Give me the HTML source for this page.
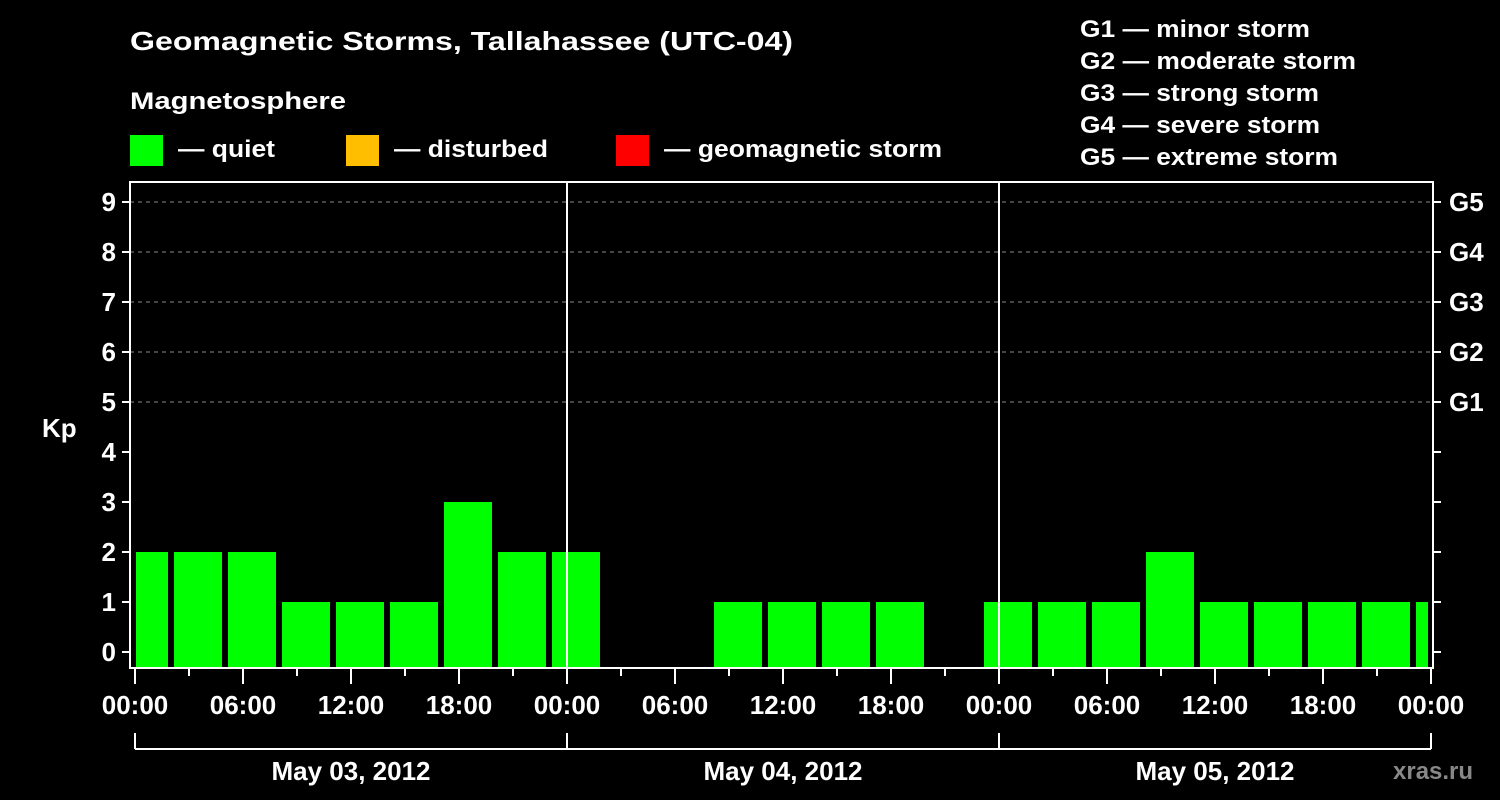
<!DOCTYPE html>
<html><head><meta charset="utf-8"><style>
html,body{margin:0;padding:0;background:#000;}
svg{display:block;font-family:"Liberation Sans",Arial,sans-serif;font-weight:bold;}
</style></head><body>
<svg id="chart" width="1500" height="800" viewBox="0 0 1500 800" xmlns="http://www.w3.org/2000/svg">
<rect width="1500" height="800" fill="#000"/>
<text x="130" y="50" fill="#fff" font-size="26" textLength="663" lengthAdjust="spacingAndGlyphs">Geomagnetic Storms, Tallahassee (UTC-04)</text>
<text x="130" y="109" fill="#fff" font-size="24" textLength="216" lengthAdjust="spacingAndGlyphs">Magnetosphere</text>
<rect x="130" y="135" width="33" height="31" fill="#00ff00"/>
<text x="178" y="157" fill="#fff" font-size="24" textLength="97" lengthAdjust="spacingAndGlyphs">— quiet</text>
<rect x="346" y="135" width="33" height="31" fill="#ffbf00"/>
<text x="394" y="157" fill="#fff" font-size="24" textLength="154" lengthAdjust="spacingAndGlyphs">— disturbed</text>
<rect x="616" y="135" width="33" height="31" fill="#ff0000"/>
<text x="664" y="157" fill="#fff" font-size="24" textLength="278" lengthAdjust="spacingAndGlyphs">— geomagnetic storm</text>
<g fill="#fff" font-size="24">
<text x="1080" y="37" textLength="230" lengthAdjust="spacingAndGlyphs">G1 — minor storm</text>
<text x="1080" y="69" textLength="276" lengthAdjust="spacingAndGlyphs">G2 — moderate storm</text>
<text x="1080" y="101" textLength="239" lengthAdjust="spacingAndGlyphs">G3 — strong storm</text>
<text x="1080" y="133" textLength="240" lengthAdjust="spacingAndGlyphs">G4 — severe storm</text>
<text x="1080" y="165" textLength="258" lengthAdjust="spacingAndGlyphs">G5 — extreme storm</text>
</g>
<g id="grid"></g>
<g id="bars"></g>
<g id="axes"></g>
<text x="42" y="437" fill="#fff" font-size="26">Kp</text>
<text x="1393" y="779" fill="#888" font-size="24">xras.ru</text>
</svg>
<script>
const kpValues = [2,2,2,1,1,1,3,2,2, 0,0,1,1,1,1,0,1, 1,1,2,1,1,1,1,1];
const barStartHours = [-1,2,5,8,11,14,17,20,23, 26,29,32,35,38,41,44,47, 50,53,56,59,62,65,68,71];
const yTicks = [0,1,2,3,4,5,6,7,8,9];
const gLabels = ["G1","G2","G3","G4","G5"];
const gLevels = [5,6,7,8,9];
const xTickLabels = ["00:00","06:00","12:00","18:00","00:00","06:00","12:00","18:00","00:00","06:00","12:00","18:00","00:00"];
const dayLabels = ["May 03, 2012","May 04, 2012","May 05, 2012"];

const NS="http://www.w3.org/2000/svg";
const L=130,R=1433,T=182,B=668;
const x0=135,pxH=18,totalH=72;
const X=h=>x0+h*pxH;
const Y=v=>652-v*50;
function mk(tag,attrs,parent){const e=document.createElementNS(NS,tag);for(const k in attrs)e.setAttribute(k,attrs[k]);parent.appendChild(e);return e;}
const grid=document.getElementById('grid'),bars=document.getElementById('bars'),axes=document.getElementById('axes');

gLevels.forEach((v,i)=>{
  const l=mk('line',{x1:L,x2:R,y1:Y(v),y2:Y(v),stroke:'#888','stroke-dasharray':'4,4','stroke-width':1},grid);
  
  
  const t=mk('text',{x:1449,y:Y(v)+9,fill:'#fff','font-size':26},axes);
  t.textContent=gLabels[i];
  
  
});

kpValues.forEach((v,i)=>{
  if(v<=0)return;
  let a=X(barStartHours[i])+3,b=X(barStartHours[i]+3)-3;
  a=Math.max(a,L+6);b=Math.min(b,R-5);
  const col=v>=5?'#ff0000':(v>=4?'#ffbf00':'#00ff00');
  const r=mk('rect',{x:a,y:Y(v),width:b-a,height:B-1-Y(v),fill:col},bars);
  
  
});

// day separators
[24,48].forEach(h=>{
  const l=mk('line',{x1:X(h),x2:X(h),y1:T,y2:B,stroke:'#fff','stroke-width':2},axes);
  
  
});
const fr=mk('rect',{x:L,y:T,width:R-L,height:B-T,fill:'none',stroke:'#fff','stroke-width':2},axes);



yTicks.forEach(v=>{
  mk('line',{x1:L-8,x2:L,y1:Y(v),y2:Y(v),stroke:'#fff','stroke-width':2},axes);
  mk('line',{x1:R,x2:R+8,y1:Y(v),y2:Y(v),stroke:'#fff','stroke-width':2},axes);
  const t=mk('text',{x:L-14,y:Y(v)+9,fill:'#fff','font-size':26,'text-anchor':'end'},axes);
  t.textContent=v;
  
  
});

for(let h=0;h<=totalH;h+=3){
  const major=h%6===0;
  mk('line',{x1:X(h),x2:X(h),y1:B,y2:B+(major?16:8),stroke:'#fff','stroke-width':2},axes);
}
xTickLabels.forEach((s,i)=>{
  const t=mk('text',{x:X(i*6),y:714,fill:'#fff','font-size':26,'text-anchor':'middle'},axes);
  t.textContent=s;
  
  
});
// day bracket
mk('line',{x1:X(0),x2:X(totalH),y1:749,y2:749,stroke:'#fff','stroke-width':2},axes);
[0,24,48,72].forEach(h=>mk('line',{x1:X(h),x2:X(h),y1:733,y2:749,stroke:'#fff','stroke-width':2},axes));
dayLabels.forEach((s,i)=>{
  const t=mk('text',{x:X(i*24+12),y:780,fill:'#fff','font-size':26,'text-anchor':'middle'},axes);
  t.textContent=s;
  
  
});
</script>
</body></html>
